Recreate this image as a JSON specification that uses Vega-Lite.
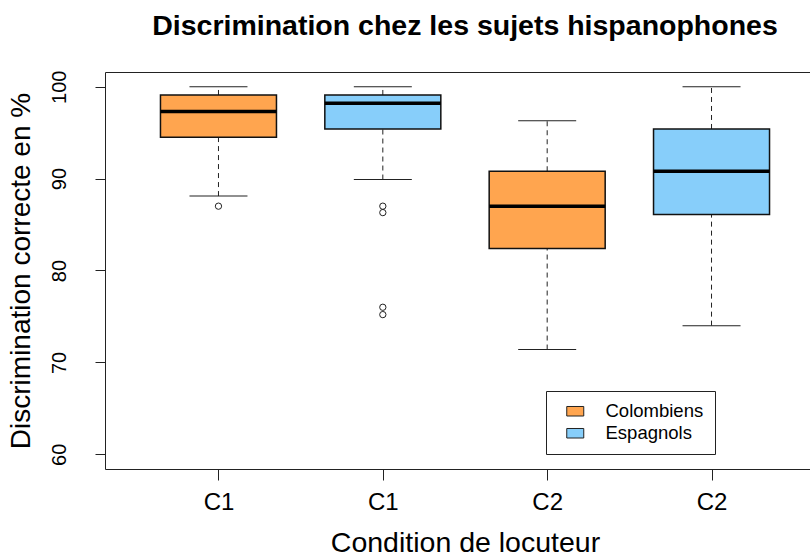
{
  "$schema": "https://vega.github.io/schema/vega-lite/v6.json",
  "autosize": {"type": "none"},
  "padding": {"left": 105, "top": 72, "right": 0, "bottom": 89},
  "width": 720,
  "height": 397,
  "background": "white",
  "title": {
    "text": "Discrimination chez les sujets hispanophones",
    "font": "Liberation Sans",
    "fontSize": 28.5,
    "fontWeight": "bold",
    "color": "black",
    "anchor": "middle",
    "baseline": "alphabetic",
    "offset": 7
  },
  "config": {
    "font": "Liberation Sans",
    "view": {"stroke": "#222", "strokeWidth": 1},
    "axis": {"grid": false, "domain": false, "tickColor": "#222", "labelColor": "black", "titleColor": "black", "labelFont": "Liberation Sans", "titleFont": "Liberation Sans", "titleFontWeight": "normal"}
  },
  "datasets": {
    "boxes": [
      {"pos": 1, "grp": "Colombiens", "lo": 88.1, "q1": 94.5, "med": 97.3, "q3": 99.1, "hi": 100},
      {"pos": 2, "grp": "Espagnols", "lo": 89.9, "q1": 95.4, "med": 98.2, "q3": 99.1, "hi": 100},
      {"pos": 3, "grp": "Colombiens", "lo": 71.4, "q1": 82.4, "med": 87.0, "q3": 90.8, "hi": 96.3},
      {"pos": 4, "grp": "Espagnols", "lo": 74.0, "q1": 86.1, "med": 90.8, "q3": 95.4, "hi": 100}
    ],
    "outliers": [
      {"pos": 1, "v": 87.0},
      {"pos": 2, "v": 87.0},
      {"pos": 2, "v": 86.3},
      {"pos": 2, "v": 76.0},
      {"pos": 2, "v": 75.2}
    ]
  },
  "data": {"name": "boxes"},
  "encoding": {
    "x": {
      "field": "pos", "type": "quantitative",
      "scale": {"domain": [0.34, 4.66], "nice": false, "zero": false},
      "axis": {
        "values": [1, 2, 3, 4],
        "labelExpr": "datum.value <= 2 ? 'C1' : 'C2'",
        "title": "Condition de locuteur",
        "titleFontSize": 28.5,
        "labelFontSize": 24,
        "tickSize": 11,
        "labelPadding": 10,
        "titlePadding": 14
      }
    }
  },
  "layer": [
    {
      "mark": {"type": "rule", "strokeDash": [5, 4], "color": "#222", "strokeWidth": 1},
      "encoding": {
        "y": {"field": "lo", "type": "quantitative",
          "scale": {"domain": [58.4, 101.6], "nice": false, "zero": false},
          "axis": {
            "values": [60, 70, 80, 90, 100],
            "title": "Discrimination correcte en %",
            "titleFontSize": 28,
            "titleBaseline": "alphabetic",
            "titlePadding": 20,
            "labelFontSize": 20,
            "labelAngle": -90,
            "labelAlign": "center",
            "labelBaseline": "alphabetic",
            "tickSize": 10,
            "labelPadding": 30
          }
        },
        "y2": {"field": "q1"}
      }
    },
    {
      "mark": {"type": "rule", "strokeDash": [5, 4], "color": "#222", "strokeWidth": 1},
      "encoding": {
        "y": {"field": "q3", "type": "quantitative"},
        "y2": {"field": "hi"}
      }
    },
    {
      "mark": {"type": "tick", "orient": "horizontal", "size": 58, "thickness": 1, "color": "#222", "opacity": 1},
      "encoding": {"y": {"field": "lo", "type": "quantitative"}}
    },
    {
      "mark": {"type": "tick", "orient": "horizontal", "size": 58, "thickness": 1, "color": "#222", "opacity": 1},
      "encoding": {"y": {"field": "hi", "type": "quantitative"}}
    },
    {
      "mark": {"type": "bar", "orient": "vertical", "size": 116, "stroke": "#111", "strokeWidth": 1.5, "opacity": 1},
      "encoding": {
        "y": {"field": "q1", "type": "quantitative"},
        "y2": {"field": "q3"},
        "color": {
          "field": "grp", "type": "nominal",
          "scale": {"domain": ["Colombiens", "Espagnols"], "range": ["#FFA54F", "#87CEFA"]},
          "legend": {
            "title": null,
            "orient": "none",
            "legendX": 441,
            "legendY": 319,
            "direction": "vertical",
            "strokeColor": "#222",
            "fillColor": "white",
            "padding": 11,
            "symbolType": "M-1,-0.56L1,-0.56L1,0.56L-1,0.56Z",
            "symbolSize": 289,
            "symbolStrokeColor": "#222",
            "symbolStrokeWidth": 1,
            "symbolOpacity": 1,
            "symbolOffset": 9,
            "labelOffset": 21,
            "labelFontSize": 18.5,
            "labelFont": "Liberation Sans",
            "labelColor": "black",
            "rowPadding": 3
          }
        }
      }
    },
    {
      "mark": {"type": "tick", "orient": "horizontal", "size": 116, "thickness": 3.5, "color": "black", "opacity": 1},
      "encoding": {"y": {"field": "med", "type": "quantitative"}}
    },
    {
      "data": {"name": "outliers"},
      "mark": {"type": "point", "shape": "circle", "filled": false, "size": 40, "stroke": "#222", "strokeWidth": 1, "opacity": 1},
      "encoding": {
        "x": {"field": "pos", "type": "quantitative"},
        "y": {"field": "v", "type": "quantitative"}
      }
    }
  ]
}
